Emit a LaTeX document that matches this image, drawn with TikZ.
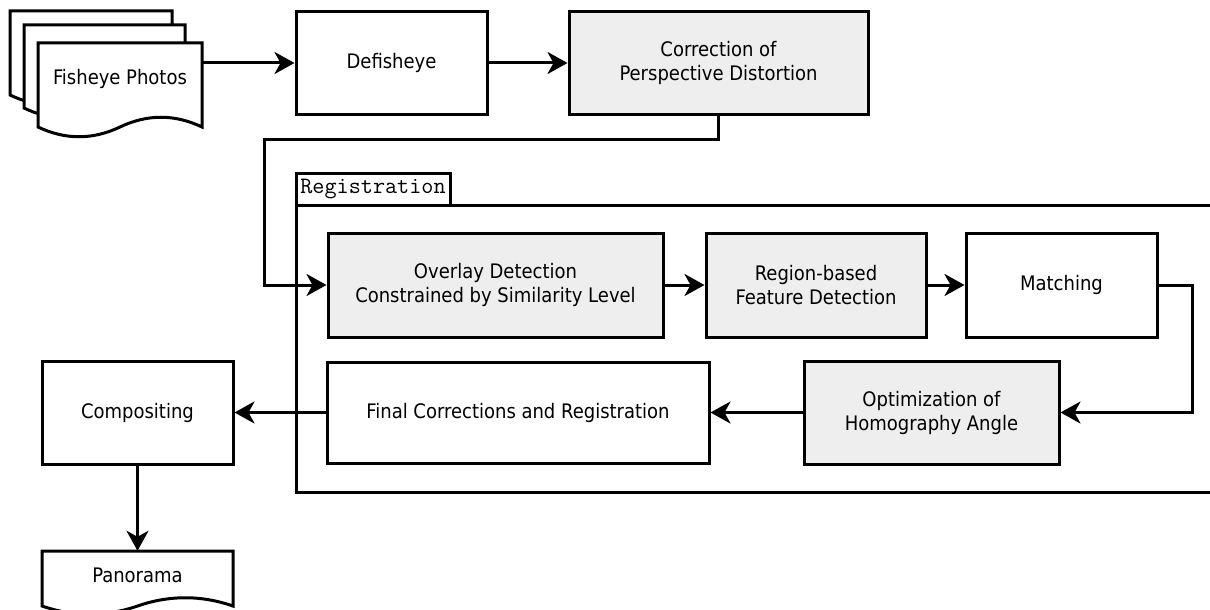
\documentclass[tikz,border=0pt]{standalone}
\usepackage{fontspec}
\setmainfont{DejaVu Sans Condensed}
\usetikzlibrary{arrows.meta}
\definecolor{boxgray}{RGB}{238,238,238}
\tikzset{
 lbl/.style={align=center, inner sep=0pt, font=\fontsize{20}{24}\selectfont},
 box/.style={lbl, draw=black, line width=3pt, fill=white},
 graybox/.style={box, fill=boxgray},
 docsheet/.style={draw=black, line width=3pt, fill=white},
 conn/.style={line width=3pt, -{Stealth[length=20pt,width=22pt,inset=6pt]}},
 wire/.style={line width=3pt},
}
\newcommand{\mydoc}[5]{%
  \pgfmathsetmacro{\dR}{#1+#3}%
  \pgfmathsetmacro{\dM}{#1+#3/2}%
  \pgfmathsetmacro{\dCa}{#1+5*#3/6}%
  \pgfmathsetmacro{\dCb}{#1+2*#3/3}%
  \pgfmathsetmacro{\dCc}{#1+#3/3}%
  \pgfmathsetmacro{\dCd}{#1+#3/6}%
  \pgfmathsetmacro{\dY}{#2+#4}%
  \pgfmathsetmacro{\dYu}{#2+#4-#5}%
  \pgfmathsetmacro{\dYd}{#2+#4+#5}%
  \draw[docsheet] (#1,#2) -- (\dR,#2) -- (\dR,\dY) .. controls (\dCa,\dYu) and (\dCb,\dYu) .. (\dM,\dY) .. controls (\dCc,\dYd) and (\dCd,\dYd) .. (#1,\dY) -- cycle;
}
\begin{document}
\begin{tikzpicture}[x=1pt,y=-1pt]
\useasboundingbox[fill=white] (0,0) rectangle (1210,610);

% registration frame
\draw[wire] (1212,205) -- (296,205) -- (296,492) -- (1212,492);
\node[box, font=\ttfamily\fontsize{23.5}{23.5}\selectfont, minimum width=154pt, minimum height=32pt] (regtab) at (373,189) {Registration};

% document shapes
\mydoc{10}{11}{162}{84}{13}
\mydoc{24}{25}{161}{83}{13}
\mydoc{38}{43}{164}{84}{13}
\mydoc{42}{551}{191}{55}{11}

\node[lbl, minimum width=164pt, minimum height=70pt] (photos) at (120,79) {Fisheye Photos};
\node[lbl, minimum width=191pt, minimum height=48pt] (panorama) at (137.5,575) {Panorama};

\node[box, minimum width=191pt, minimum height=102pt] (defisheye) at (391.5,63) {Defisheye};
\node[graybox, minimum width=299pt, minimum height=102pt] (correction) at (718.5,63) {Correction of\\Perspective Distortion};
\node[graybox, minimum width=335pt, minimum height=104pt] (overlay) at (495.5,285) {Overlay Detection\\Constrained by Similarity Level};
\node[graybox, minimum width=220pt, minimum height=104pt] (region) at (816,285) {Region-based\\Feature Detection};
\node[box, minimum width=191pt, minimum height=104pt] (matching) at (1061.5,285) {Matching};
\node[graybox, minimum width=255pt, minimum height=103pt] (optim) at (931.5,412.5) {Optimization of\\Homography Angle};
\node[box, minimum width=382pt, minimum height=101pt] (final) at (518,412.5) {Final Corrections and Registration};
\node[box, minimum width=191pt, minimum height=103pt] (compositing) at (137.5,412.5) {Compositing};

\coordinate (k1) at (264,139);
\coordinate (k2) at (1192,350);

\draw[conn] (photos.east |- defisheye.west) -- (defisheye.west);
\draw[conn] (defisheye) -- (correction);
\draw[conn] (correction.south) |- (k1) |- (overlay.west);
\draw[conn] (overlay) -- (region);
\draw[conn] (region) -- (matching);
\draw[conn] (matching.east) -| (k2) |- (optim.east);
\draw[conn] (optim) -- (final);
\draw[conn] (final) -- (compositing);
\draw[conn] (compositing) -- (panorama.north);
\end{tikzpicture}
\end{document}
